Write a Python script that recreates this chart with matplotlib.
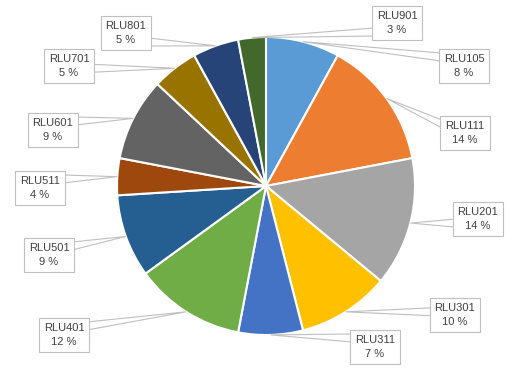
import numpy as np
import matplotlib
matplotlib.use('Agg')
import matplotlib.pyplot as plt
from matplotlib.patches import Polygon

# data
labels = ['RLU105', 'RLU111', 'RLU201', 'RLU301', 'RLU311', 'RLU401',
          'RLU501', 'RLU511', 'RLU601', 'RLU701', 'RLU801', 'RLU901']
shares = [8, 14, 14, 10, 7, 12, 9, 4, 9, 5, 5, 3]
colors = ['#5B9BD5', '#ED7D31', '#A5A5A5', '#FFC000', '#4472C4', '#70AD47',
          '#255E91', '#9E480E', '#636363', '#997300', '#264478', '#43682B']

# label box centres in image pixels (x, y from top)
box_pos = [(464, 66), (465, 133), (478, 219), (455, 315), (375, 347), (64, 335),
           (49, 255), (40, 188), (53, 130), (69, 66), (126, 33), (397, 23)]

W, H = 510, 371
cx, cy, r = 266, 186, 149

fig = plt.figure(figsize=(W / 100, H / 100), dpi=100)
ax = fig.add_axes([0, 0, 1, 1])
ax.axis('off')

wedges, _ = ax.pie(shares, colors=colors, startangle=90, counterclock=False,
                   center=(cx, H - cy), radius=r,
                   wedgeprops=dict(edgecolor='white', linewidth=1.5))
ax.set_xlim(0, W)
ax.set_ylim(0, H)
ax.set_aspect('equal')

total = float(sum(shares))
box_w, box_h = 46, 34
for i, (lab, val) in enumerate(zip(labels, shares)):
    w = wedges[i]
    mid = np.radians((w.theta1 + w.theta2) / 2)
    px = cx + r * np.cos(mid)
    py = (H - cy) + r * np.sin(mid)
    bx, by = box_pos[i]
    by = H - by
    # base of the callout on the box side facing the slice
    ex = bx - box_w / 2 if bx > px else bx + box_w / 2
    ey = min(max(py, by - box_h / 2 + 8), by + box_h / 2 - 8)
    poly = Polygon([(ex, ey + 4), (px, py), (ex, ey - 4)], closed=True,
                   facecolor='white', edgecolor='#bfbfbf', linewidth=0.8, zorder=3)
    ax.add_patch(poly)
    pct = '%d %%' % round(100 * val / total)
    ax.text(bx, by, lab + '\n' + pct, ha='center', va='center', multialignment='center',
            fontsize=8, family=['Liberation Sans', 'DejaVu Sans'], color='#404040',
            linespacing=1.45, zorder=4,
            bbox=dict(boxstyle='square,pad=0.45', facecolor='white', edgecolor='#bfbfbf',
                      linewidth=0.8))

fig.savefig('out.png', dpi=100)
